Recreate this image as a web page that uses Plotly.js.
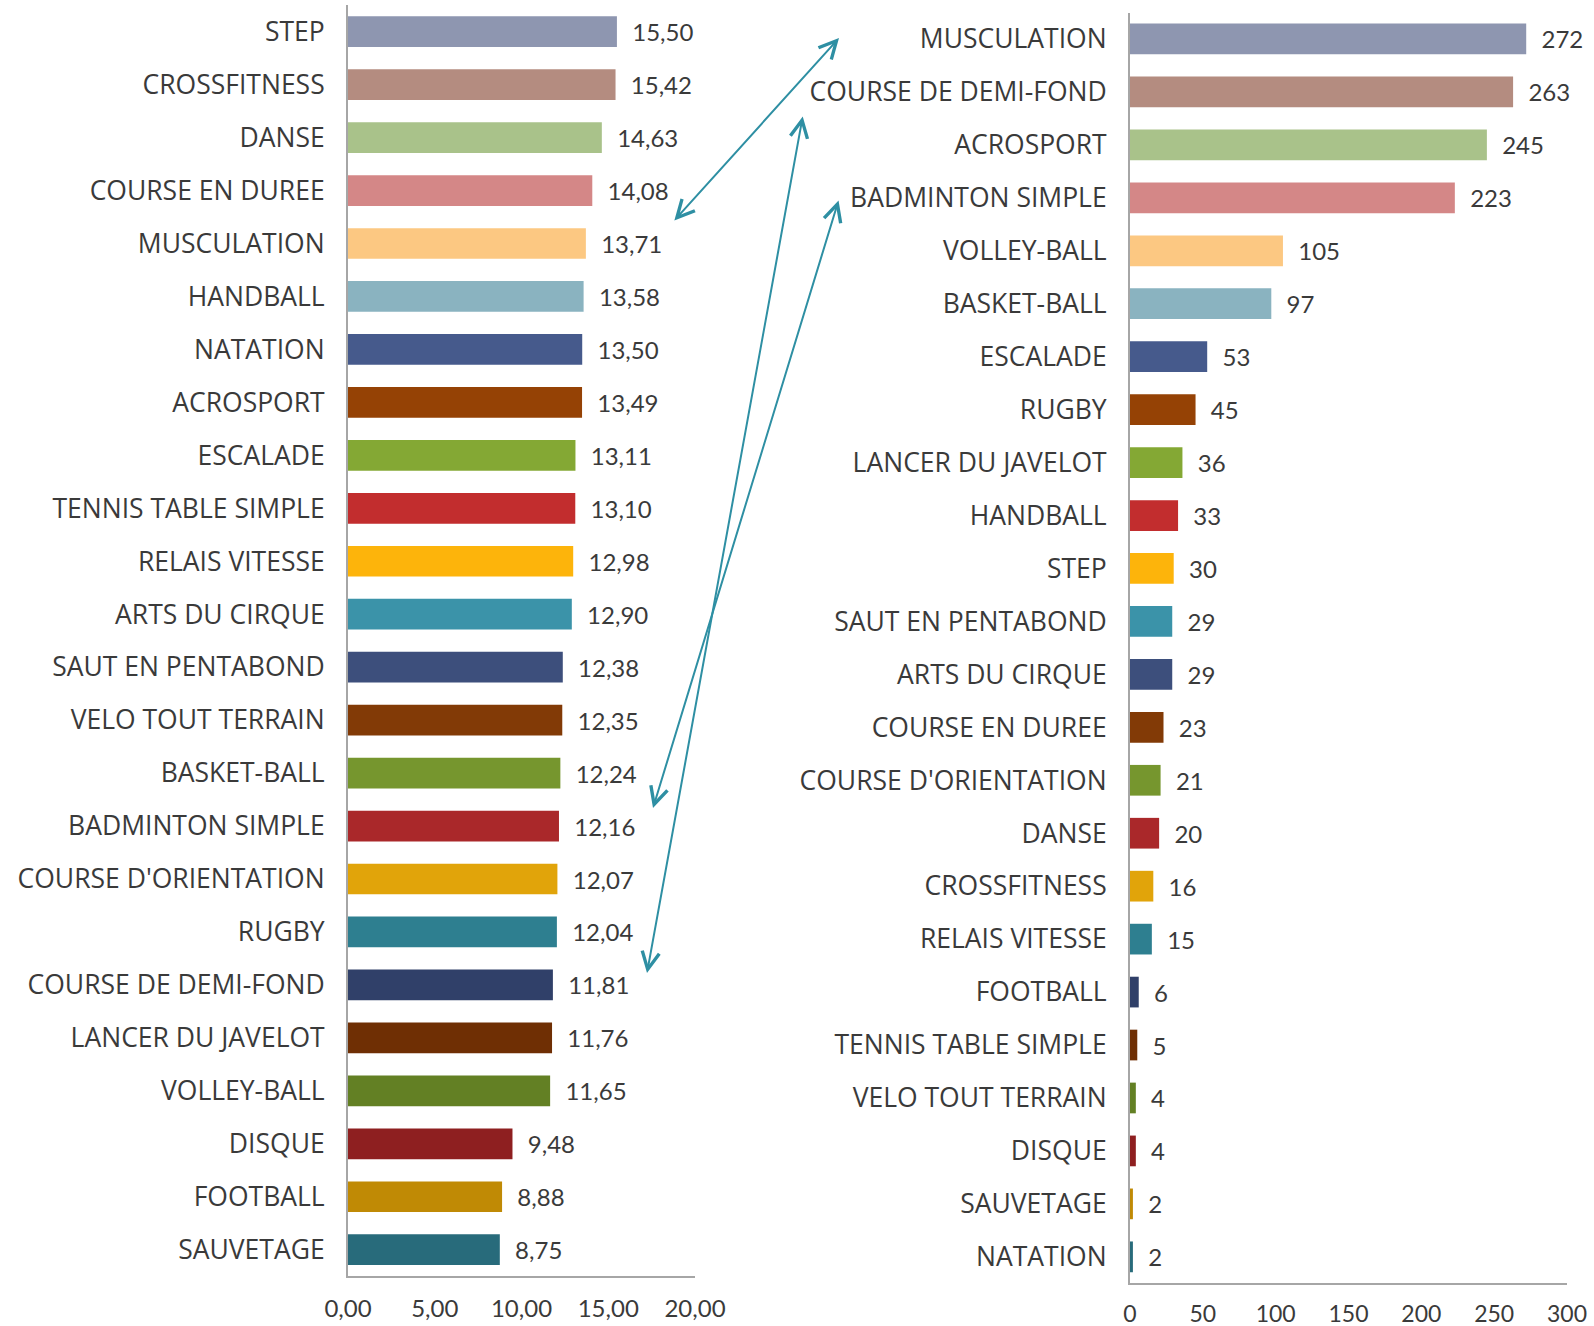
<!DOCTYPE html>
<html>
<head>
<meta charset="utf-8">
<script src="https://cdn.plot.ly/plotly-3.0.1.min.js"></script>
<style>html,body{margin:0;padding:0;background:#fff;}#chart{width:1594px;height:1326px;}</style>
</head>
<body>
<div id="chart"></div>
<script>
// Left chart: average mark per activity
const leftCategories = ["STEP","CROSSFITNESS","DANSE","COURSE EN DUREE","MUSCULATION","HANDBALL","NATATION","ACROSPORT","ESCALADE","TENNIS TABLE SIMPLE","RELAIS VITESSE","ARTS DU CIRQUE","SAUT EN PENTABOND","VELO TOUT TERRAIN","BASKET-BALL","BADMINTON SIMPLE","COURSE D'ORIENTATION","RUGBY","COURSE DE DEMI-FOND","LANCER DU JAVELOT","VOLLEY-BALL","DISQUE","FOOTBALL","SAUVETAGE"];
const leftValues = [15.50,15.42,14.63,14.08,13.71,13.58,13.50,13.49,13.11,13.10,12.98,12.90,12.38,12.35,12.24,12.16,12.07,12.04,11.81,11.76,11.65,9.48,8.88,8.75];

// Right chart: number of students per activity
const rightCategories = ["MUSCULATION","COURSE DE DEMI-FOND","ACROSPORT","BADMINTON SIMPLE","VOLLEY-BALL","BASKET-BALL","ESCALADE","RUGBY","LANCER DU JAVELOT","HANDBALL","STEP","SAUT EN PENTABOND","ARTS DU CIRQUE","COURSE EN DUREE","COURSE D'ORIENTATION","DANSE","CROSSFITNESS","RELAIS VITESSE","FOOTBALL","TENNIS TABLE SIMPLE","VELO TOUT TERRAIN","DISQUE","SAUVETAGE","NATATION"];
const rightValues = [272,263,245,223,105,97,53,45,36,33,30,29,29,23,21,20,16,15,6,5,4,4,2,2];

const leftTicks = [0,5,10,15,20];
const rightTicks = [0,50,100,150,200,250,300];

// Bar colour by rank position
const palette = ["#8E96B0","#B48C80","#A9C28A","#D48787","#FCC882","#8AB3C0","#465A8C","#954205","#84A834","#C22D2E","#FDB40B","#3B93A9","#3D4F7C","#823A06","#76962E","#AA282A","#E1A40A","#2E7F90","#304069","#6F2F04","#638024","#8E1F20","#C08A05","#286B7B"];

const NUMFONT = "Lato, 'Open Sans', sans-serif";
const CATFONT = "'Open Sans', Lato, sans-serif";
const TXT = "#3a3a3a";
const NB = "\u00a0\u00a0";

const traces = [
  {
    type: "bar", orientation: "h",
    x: leftValues, y: leftCategories,
    xaxis: "x", yaxis: "y",
    marker: {color: palette},
    texttemplate: NB + "%{x:.2f}", textposition: "outside",
    textfont: {family: NUMFONT, size: 24, color: TXT},
    constraintext: "none", cliponaxis: false, hoverinfo: "none"
  },
  {
    type: "bar", orientation: "h",
    x: rightValues, y: rightCategories,
    xaxis: "x2", yaxis: "y2",
    marker: {color: palette},
    texttemplate: NB + "%{x}", textposition: "outside",
    textfont: {family: NUMFONT, size: 24, color: TXT},
    constraintext: "none", cliponaxis: false, hoverinfo: "none"
  }
];

const W = 1594, H = 1326;
const px = v => v / W, py = v => 1 - v / H;

const axisCommon = {
  showgrid: false, zeroline: false, showline: true,
  linecolor: "#A6A6A6", linewidth: 2,
  ticks: ""
};
const yTickFont = {family: CATFONT, size: 26.5, color: TXT};

function arrow(x1, y1, x2, y2) {
  return {
    x: px(x2), y: py(y2), ax: px(x1), ay: py(y1),
    xref: "paper", yref: "paper", axref: "paper", ayref: "paper",
    text: "", showarrow: true, arrowside: "end+start",
    arrowhead: 5, startarrowhead: 5, arrowsize: 1.7, startarrowsize: 1.7,
    arrowwidth: 2, arrowcolor: "#2E8FA3", standoff: 0, startstandoff: 0
  };
}

const layout = {
  width: W, height: H,
  margin: {l: 0, r: 0, t: 0, b: 0},
  paper_bgcolor: "#fff", plot_bgcolor: "rgba(0,0,0,0)",
  showlegend: false,
  separators: ", ",
  bargap: 0.42,
  font: {family: NUMFONT, color: TXT, size: 24},
  xaxis: Object.assign({}, axisCommon, {
    domain: [px(348), px(695)], range: [0, 20], anchor: "y",
    tickvals: leftTicks, tickformat: ".2f", ticklabelstandoff: 10,
    tickfont: {family: NUMFONT, size: 24, color: TXT}
  }),
  yaxis: Object.assign({}, axisCommon, {
    domain: [py(1276.2), py(5.2)], anchor: "x",
    type: "category", categoryorder: "array", categoryarray: leftCategories,
    autorange: "reversed", ticklabelstandoff: 16, tickfont: yTickFont
  }),
  xaxis2: Object.assign({}, axisCommon, {
    domain: [px(1130), px(1567)], range: [0, 300], anchor: "y2",
    tickvals: rightTicks, ticklabelstandoff: 9,
    tickfont: {family: NUMFONT, size: 23, color: TXT}
  }),
  yaxis2: Object.assign({}, axisCommon, {
    domain: [py(1283.3), py(12.5)], anchor: "x2",
    type: "category", categoryorder: "array", categoryarray: rightCategories,
    autorange: "reversed", ticklabelstandoff: 16, tickfont: yTickFont
  }),
  annotations: [
    arrow(673, 222, 839, 38),
    arrow(803, 115, 647, 973),
    arrow(839, 199, 653, 808)
  ]
};

Plotly.newPlot("chart", traces, layout, {displayModeBar: false, staticPlot: true});
</script>
</body>
</html>
